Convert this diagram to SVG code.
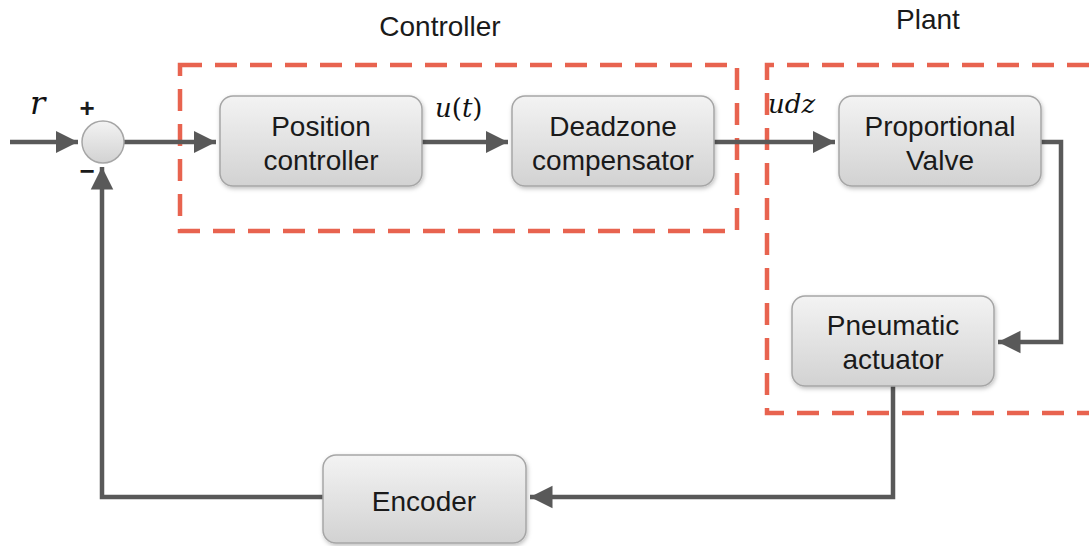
<svg xmlns="http://www.w3.org/2000/svg" width="1089" height="546" viewBox="0 0 1089 546">
<defs>
<linearGradient id="g" x1="0" y1="0" x2="0" y2="1">
<stop offset="0" stop-color="#f3f3f3"/>
<stop offset="1" stop-color="#d2d2d2"/>
</linearGradient>
<filter id="sh" x="-10%" y="-10%" width="130%" height="140%">
<feDropShadow dx="1" dy="2" stdDeviation="2" flood-color="#000" flood-opacity="0.25"/>
</filter>
<marker id="ah" markerWidth="6" markerHeight="6" refX="5" refY="3" orient="auto" markerUnits="strokeWidth">
<path d="M0,0.5 L5,3 L0,5.5 Z" fill="#595959"/>
</marker>
</defs>
<style>
.box{fill:url(#g);stroke:#a6a6a6;stroke-width:1.5;filter:url(#sh)}
.t{font-family:"Liberation Sans",Arial,sans-serif;font-size:28px;fill:#1a1a1a;text-anchor:middle}
.c{fill:none;stroke:#595959;stroke-width:4.5}
.d{fill:none;stroke:#e8634f;stroke-width:4.5;stroke-dasharray:22 13}
.m{font-family:"DejaVu Serif","Liberation Serif",serif;font-style:italic;font-size:26px;fill:#111}
</style>
<rect width="1089" height="546" fill="#fff"/>
<g id="groups">
<rect class="d" x="180" y="65" width="557" height="166"/>
<path class="d" d="M1089,65 H767 V413 H1089"/>
<text class="t" x="440" y="36">Controller</text>
<text class="t" x="928" y="29">Plant</text>
</g>
<g id="connectors">
<line class="c" x1="10" y1="142" x2="78" y2="142" marker-end="url(#ah)"/>
<line class="c" x1="124" y1="142" x2="216" y2="142" marker-end="url(#ah)"/>
<line class="c" x1="422" y1="142" x2="508" y2="142" marker-end="url(#ah)"/>
<line class="c" x1="714" y1="142" x2="835" y2="142" marker-end="url(#ah)"/>
<path class="c" d="M1041,142 H1061 V342 H998" marker-end="url(#ah)"/>
<path class="c" d="M893,386 V497 H530" marker-end="url(#ah)"/>
<path class="c" d="M323,497 H102 V167" marker-end="url(#ah)"/>
</g>
<g id="sum">
<circle cx="103" cy="142" r="21" fill="url(#g)" stroke="#a6a6a6" stroke-width="1.5"/>
<text class="t" x="87" y="117" style="font-size:26px;font-weight:bold">+</text>
<text class="t" x="87" y="180" style="font-size:26px;font-weight:bold">−</text>
</g>
<g id="labels">
<text class="m" x="30" y="114" style="font-size:32px">r</text>
<text class="m" x="435" y="117" style="font-style:normal"><tspan font-style="italic">u</tspan>(<tspan font-style="italic">t</tspan>)</text>
<text class="m" x="768" y="113">udz</text>
</g>
<g id="position-controller">
<rect class="box" x="220" y="96" width="202" height="90" rx="13"/>
<text class="t" x="321" y="136">Position</text>
<text class="t" x="321" y="170">controller</text>
</g>
<g id="deadzone-compensator">
<rect class="box" x="512" y="96" width="202" height="90" rx="13"/>
<text class="t" x="613" y="136">Deadzone</text>
<text class="t" x="613" y="170">compensator</text>
</g>
<g id="proportional-valve">
<rect class="box" x="839" y="96" width="202" height="90" rx="13"/>
<text class="t" x="940" y="136">Proportional</text>
<text class="t" x="940" y="170">Valve</text>
</g>
<g id="pneumatic-actuator">
<rect class="box" x="792" y="296" width="202" height="90" rx="13"/>
<text class="t" x="893" y="335">Pneumatic</text>
<text class="t" x="893" y="369">actuator</text>
</g>
<g id="encoder">
<rect class="box" x="323" y="455" width="203" height="88" rx="13"/>
<text class="t" x="424" y="511">Encoder</text>
</g>
</svg>
